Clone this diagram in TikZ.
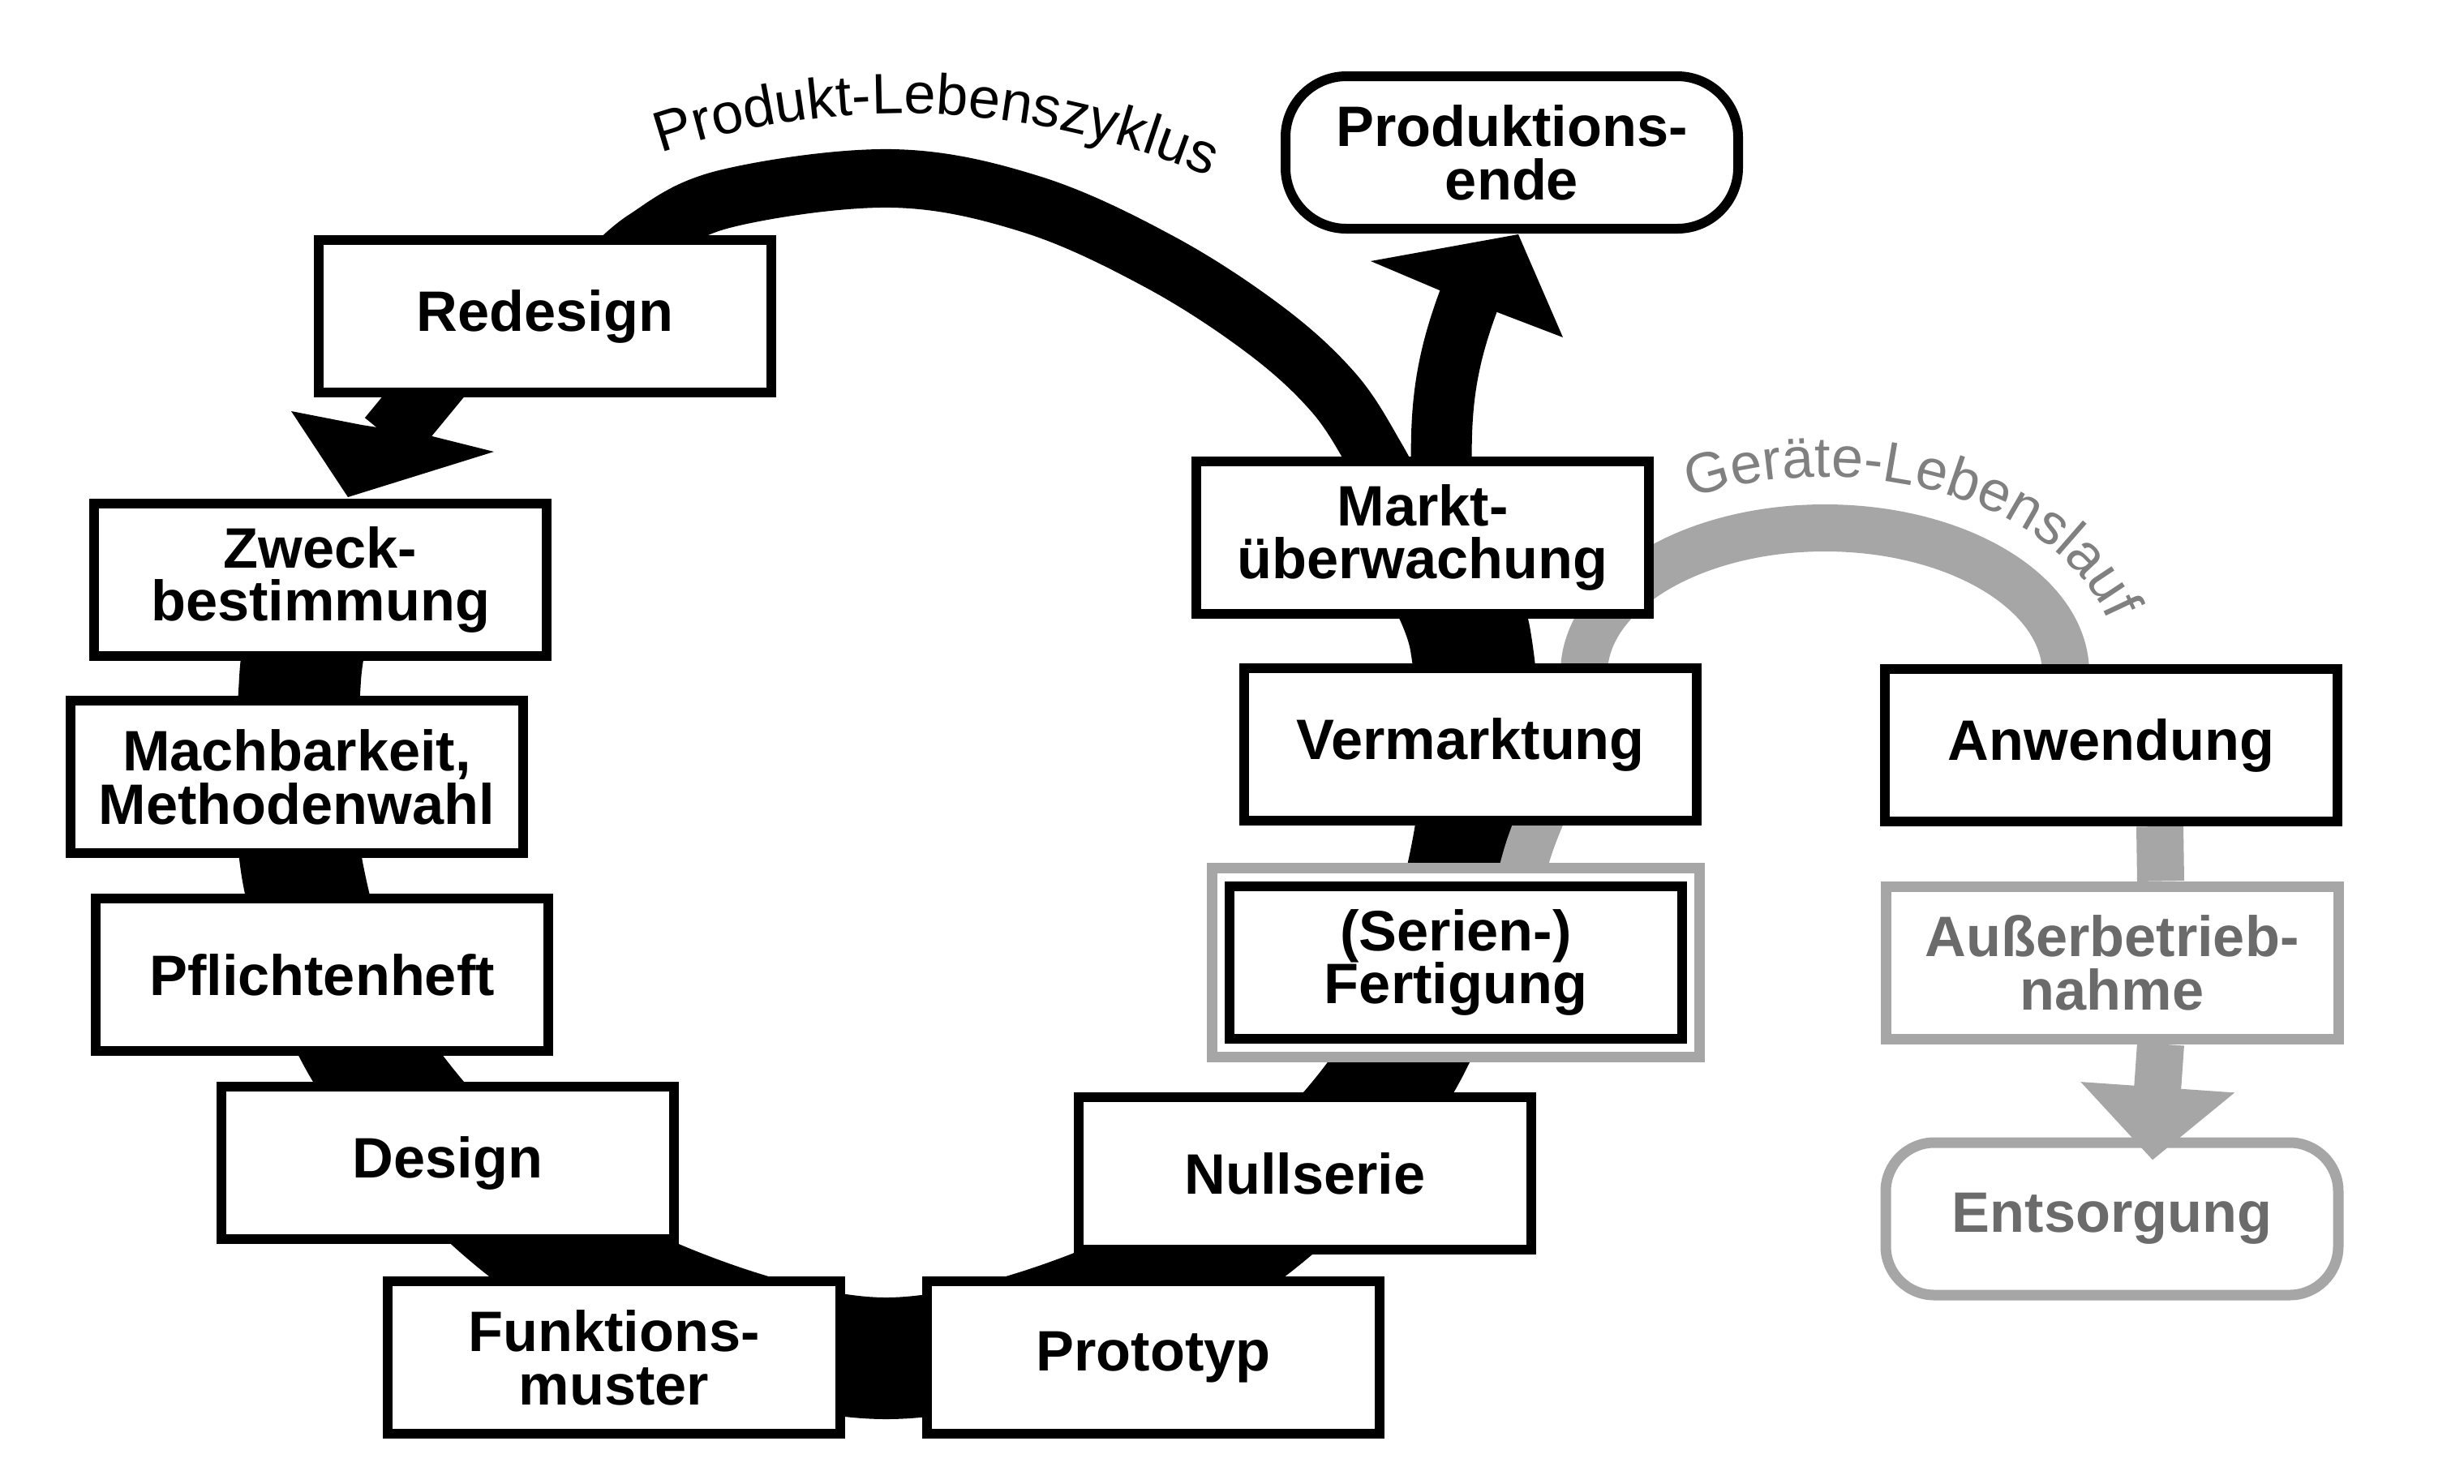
\documentclass[tikz,border=0pt]{standalone}
\usepackage{fontspec}
\setmainfont{Liberation Sans}
\usepackage{tikz}
\usetikzlibrary{arrows.meta,backgrounds}
\usetikzlibrary{decorations.text}
\definecolor{gline}{gray}{0.65}
\definecolor{gtext}{gray}{0.42}
\definecolor{glabel}{gray}{0.5}
\tikzstyle{Pbox}=[draw, line width=1.2mm, fill=white, minimum width=5.58cm,
                minimum height=1.88cm, inner sep=0, align=center,
                font=\bfseries\fontsize{20}{18.7}\selectfont]
\tikzstyle{Pend}=[Pbox, rounded corners=7.5mm]
\tikzstyle{Gbox}=[Pbox, draw=gline, line width=1.3mm, text=gtext]
\tikzstyle{Gend}=[Gbox, rounded corners=6mm]
\tikzstyle{Gframe}=[draw=gline, line width=1.3mm, fill=white,
                minimum width=6.01cm, minimum height=2.33cm]
\tikzstyle{band}=[line width=15mm]
\tikzstyle{thin band}=[line width=7.2mm]
\tikzstyle{shaft}=[line width=7.8mm]
\tikzstyle{head}=[fill=black]
\tikzstyle{gband}=[draw=gline, line width=5.8mm]
\tikzstyle{ghit}=[gband, -{Triangle[length=9mm,width=18.5mm]}]

\begin{document}
\begin{tikzpicture}
\useasboundingbox (0,0) rectangle (30.38,-18.29);

\node[Pbox] (redesign) at (6.72,-3.90) {Redesign};
\node[Pbox] (zweck) at (3.95,-7.15) {Zweck-\\bestimmung};
\node[Pbox] (mach) at (3.66,-9.58) {Machbarkeit,\\Methodenwahl};
\node[Pbox] (pflicht) at (3.97,-12.02) {Pflichtenheft};
\node[Pbox] (design) at (5.52,-14.34) {Design};
\node[Pbox] (fmuster) at (7.57,-16.74) {Funktions-\\muster};
\node[Pbox] (proto) at (14.22,-16.74) {Prototyp};
\node[Pbox] (null) at (16.09,-14.47) {Nullserie};
\node[Gframe] (gframe) at (17.95,-11.87) {};
\node[Pbox] (serien) at (gframe) {(Serien-)\\Fertigung};
\node[Pbox] (vermarkt) at (18.13,-9.18) {Vermarktung};
\node[Pbox] (markt) at (17.54,-6.63) {Markt-\\überwachung};
\node[Pend] (prodende) at (18.64,-1.88) {Produktions-\\ende};

\node[Pbox] (anwendung) at (26.03,-9.19) {Anwendung};
\node[Gbox] (ausser) at (26.04,-11.87) {Außerbetrieb-\\nahme};
\node[Gend] (entsorgung) at (26.04,-15.03) {Entsorgung};

\coordinate (g1) at (3.70,-8.37);
\coordinate (g2) at (3.74,-10.80);
\coordinate (g3) at (4.65,-13.18);
\coordinate (g4) at (7.07,-15.54);
\coordinate (g5) at (10.90,-16.75);
\coordinate (g6) at (14.70,-15.60);
\coordinate (g7) at (17.16,-13.28);
\coordinate (g8) at (18.17,-10.40);
\coordinate (g9) at (18.13,-7.90);
\coordinate (gl) at (19.53,-8.30);

\begin{scope}[on background layer]
\draw[band] plot[smooth, tension=0.55] coordinates {(zweck.center) (g1) (g2) (g3)
  (g4) (g5) (g6) (g7) (g8) (g9) (markt.center)};
\draw[thin band] plot[smooth, tension=0.6] coordinates {(17.25,-6.20) (16.97,-5.65)
  (16.45,-4.85) (15.60,-4.07) (14.30,-3.23) (12.72,-2.52) (11.00,-2.20) (8.95,-2.45)
  (7.95,-2.95) (7.40,-3.45)};
% Redesign -> Zweckbestimmung
\draw[shaft] ([shift={(-1.22,-0.65)}]redesign.center) -- ([shift={(0.85,0.75)}]zweck.north);
\fill[head] ([xshift=3.4mm,yshift=0.2mm]zweck.north) -- ++(-0.70,1.06) -- ++(0.87,-0.17)
  -- ++(0.83,-0.13) -- ++(0.80,-0.20) -- cycle;
% Markt -> Produktionsende
\draw[shaft, line width=7.5mm] ([xshift=2.4mm,yshift=-4mm]markt.north) to[out=92,in=-111]
  ([shift={(-0.50,-0.74)}]prodende.south);
\fill[head] ([xshift=0.8mm,yshift=-0.1mm]prodende.south) -- ++(0.55,-1.27) -- ++(-0.81,0.31)
  -- ++(-0.71,0.27) -- ++(-0.85,0.36) -- cycle;
\draw[gband] ([xshift=7.8mm,yshift=-3mm]gframe.north) to[out=80,in=-90] (gl)
  arc[start angle=180, end angle=0, x radius=2.97, y radius=1.79]
  -- ([xshift=-5.6mm]anwendung.center);
\draw[gband] ([xshift=6mm]anwendung.south) -- ([xshift=6mm]ausser.north);
\end{scope}

\draw[ghit] ([xshift=6mm]ausser.south) -- ([xshift=5mm,yshift=-2.8mm]entsorgung.north);

\path[decorate, decoration={text along path, text align=center,
  text={|\fontsize{20}{20}\selectfont|Produkt-Lebenszyklus}}]
  ([shift={(112:9.43)}]11.14,-10.83) arc[start angle=112, end angle=63, radius=9.43];
\path[decorate, decoration={text along path, text align=center,
  text={|\fontsize{20}{20}\selectfont\color{glabel}|Geräte-Lebenslauf}}]
  ([shift={(124:3.62 and 2.42)}]22.50,-8.30) arc[start angle=124, end angle=6,
  x radius=3.62, y radius=2.42];
\end{tikzpicture}
\end{document}
